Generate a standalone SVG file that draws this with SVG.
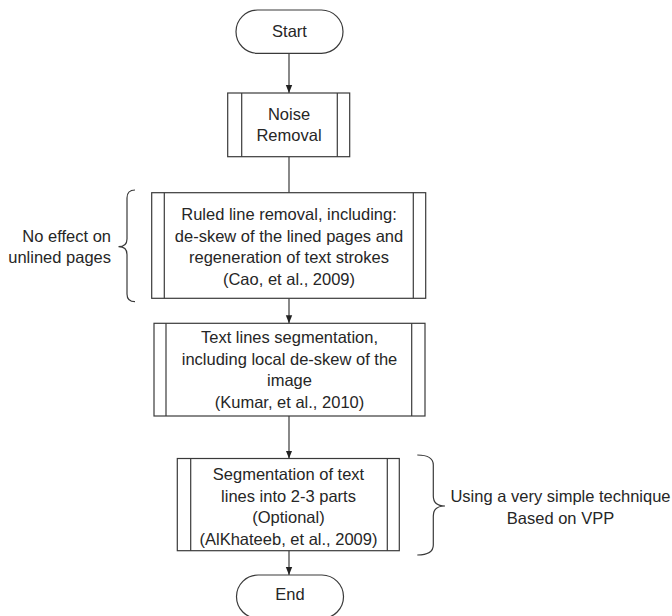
<svg xmlns="http://www.w3.org/2000/svg" width="672" height="616" viewBox="0 0 672 616">
  <style>
    .shape { fill: #ffffff; stroke: #3a3a3a; stroke-width: 1.2; }
    .inner { fill: none; stroke: #3a3a3a; stroke-width: 1.2; }
    .conn { fill: none; stroke: #3a3a3a; stroke-width: 1.2; }
    .brace { fill: none; stroke: #3a3a3a; stroke-width: 1.2; }
    text { font-family: "Liberation Sans", Arial, sans-serif; font-size: 16.5px; fill: #262626; }
    .c { text-anchor: middle; }
    .r { text-anchor: end; }
  </style>
  <defs>
    <marker id="arrow" viewBox="0 0 8 8" refX="8" refY="4" markerWidth="8" markerHeight="8" markerUnits="userSpaceOnUse" orient="auto">
      <path d="M0,0.8 L8,4 L0,7.2 Z" fill="#222"/>
    </marker>
  </defs>
  <rect width="672" height="616" fill="#ffffff"/>

  <g id="connectors">
    <line class="conn" x1="289" y1="53.3" x2="289" y2="93" marker-end="url(#arrow)"/>
    <line class="conn" x1="289" y1="156.7" x2="289" y2="192.7"/>
    <line class="conn" x1="289" y1="298.3" x2="289" y2="323.3" marker-end="url(#arrow)"/>
    <line class="conn" x1="289" y1="416" x2="289" y2="458.5" marker-end="url(#arrow)"/>
    <line class="conn" x1="289" y1="550.7" x2="289" y2="575" marker-end="url(#arrow)"/>
  </g>

  <g id="start">
    <rect class="shape" x="236" y="10" width="107" height="43.3" rx="21.6" ry="21.6"/>
    <text class="c" x="289.5" y="37">Start</text>
  </g>

  <g id="noise-removal">
    <rect class="shape" x="227.7" y="93" width="122" height="63.7"/>
    <line class="inner" x1="241.7" y1="93" x2="241.7" y2="156.7"/>
    <line class="inner" x1="337.3" y1="93" x2="337.3" y2="156.7"/>
    <text class="c" x="289" y="119.5">Noise</text>
    <text class="c" x="289" y="141">Removal</text>
  </g>

  <g id="ruled-line-removal">
    <rect class="shape" x="151.7" y="192.7" width="274" height="105.6"/>
    <line class="inner" x1="164.3" y1="192.7" x2="164.3" y2="298.3"/>
    <line class="inner" x1="413.3" y1="192.7" x2="413.3" y2="298.3"/>
    <text class="c" x="289" y="220">Ruled line removal, including:</text>
    <text class="c" x="289" y="241.7">de-skew of the lined pages and</text>
    <text class="c" x="289" y="263.3">regeneration of text strokes</text>
    <text class="c" x="289" y="285">(Cao, et al., 2009)</text>
  </g>

  <g id="note-unlined">
    <path class="brace" d="M135,190 Q127,190 127,198 L127,239 Q127,246.7 118.5,246.7 Q127,246.7 127,254.5 L127,294 Q127,301.7 135,301.7"/>
    <text class="r" x="111" y="241.7">No effect on</text>
    <text class="r" x="111" y="262.5">unlined pages</text>
  </g>

  <g id="text-lines-segmentation">
    <rect class="shape" x="154" y="323.3" width="271" height="92.7"/>
    <line class="inner" x1="166" y1="323.3" x2="166" y2="416"/>
    <line class="inner" x1="411.7" y1="323.3" x2="411.7" y2="416"/>
    <text class="c" x="289.5" y="343">Text lines segmentation,</text>
    <text class="c" x="289.5" y="364.5">including local de-skew of the</text>
    <text class="c" x="289.5" y="386">image</text>
    <text class="c" x="289.5" y="407.5">(Kumar, et al., 2010)</text>
  </g>

  <g id="segmentation-parts">
    <rect class="shape" x="177.3" y="458.5" width="222" height="92.2"/>
    <line class="inner" x1="190.7" y1="458.5" x2="190.7" y2="550.7"/>
    <line class="inner" x1="387.3" y1="458.5" x2="387.3" y2="550.7"/>
    <text class="c" x="288.5" y="480">Segmentation of text</text>
    <text class="c" x="288.5" y="501.7">lines into 2-3 parts</text>
    <text class="c" x="288.5" y="523.3">(Optional)</text>
    <text class="c" x="288.5" y="544.5">(AlKhateeb, et al., 2009)</text>
  </g>

  <g id="note-vpp">
    <path class="brace" d="M417.3,455 Q433.3,455 433.3,465 L433.3,496 Q433.3,506 445,506 Q433.3,506 433.3,516 L433.3,545 Q433.3,555 417.3,555"/>
    <text class="c" x="560.5" y="502.3">Using a very simple technique</text>
    <text class="c" x="560.5" y="524.3">Based on VPP</text>
  </g>

  <g id="end">
    <rect class="shape" x="236.5" y="575" width="107" height="43.3" rx="21.6" ry="21.6"/>
    <text class="c" x="290" y="600">End</text>
  </g>
</svg>
